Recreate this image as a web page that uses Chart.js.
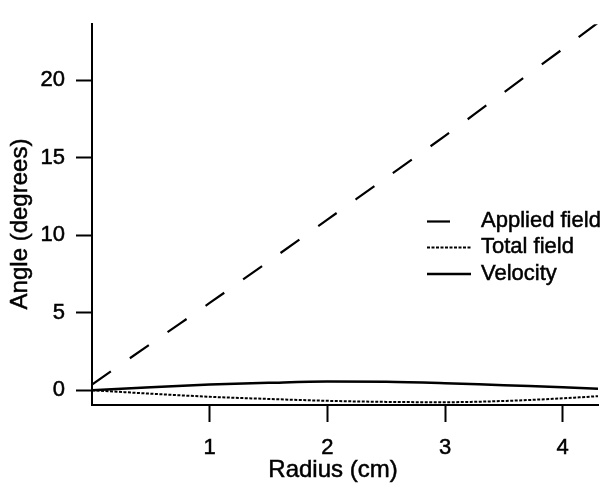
<!DOCTYPE html>
<html>
<head>
<meta charset="utf-8">
<script src="https://cdn.jsdelivr.net/npm/chart.js@4/dist/chart.umd.min.js"></script>
<style>
  html, body { margin: 0; padding: 0; background: #fff; }
  #wrap { width: 608px; height: 483px; }
</style>
</head>
<body>
<div id="wrap"><canvas id="angleChart" width="608" height="483"></canvas></div>
<script>
// radius (cm) sample points and the three angle curves (degrees)
const radius = [0, 0.5, 1, 1.5, 2, 2.5, 3, 3.5, 4, 4.3];
const appliedField = [0.37, 3.0, 5.63, 8.3, 11.0, 13.7, 16.4, 19.2, 22.0, 23.7];
const totalField = [0, -0.22, -0.42, -0.56, -0.68, -0.75, -0.77, -0.69, -0.52, -0.38];
const velocity = [0, 0.2, 0.37, 0.48, 0.56, 0.55, 0.46, 0.32, 0.2, 0.1];

const seriesLabels = ['Applied field', 'Total field', 'Velocity'];
const xTicks = [1, 2, 3, 4];
const yTicks = [0, 5, 10, 15, 20];
const xTitle = 'Radius (cm)';
const yTitle = 'Angle (degrees)';

const FONT = '"Liberation Sans", Arial, Helvetica, sans-serif';

function toPoints(values) {
    return values.map((v, i) => ({ x: radius[i], y: v }));
}

// heavier text, like the original's rasterised Helvetica
function heavyText(ctx, text, x, y) {
    ctx.fillText(text, x, y);
    ctx.strokeText(text, x, y);
}

// legend + axis titles drawn by hand so they sit where the original has them
const annotations = {
    id: 'annotations',
    afterDraw(chart) {
        const ctx = chart.ctx;
        ctx.save();
        ctx.fillStyle = '#000';

        // legend
        ctx.font = '22px ' + FONT;
        ctx.textBaseline = 'alphabetic';
        ctx.textAlign = 'left';
        const rows = [221.5, 247.5, 274];
        chart.data.datasets.forEach((ds, i) => {
            const y = rows[i];
            ctx.beginPath();
            ctx.setLineDash(ds.borderDash || []);
            ctx.lineWidth = ds.borderWidth;
            ctx.strokeStyle = ds.borderColor;
            ctx.moveTo(427, y);
            ctx.lineTo(471, y);
            ctx.stroke();
            ctx.setLineDash([]);
            ctx.lineWidth = 0.5;
            heavyText(ctx, ds.label, 481, y + 5.5);
        });

        // axis titles
        ctx.font = '24px ' + FONT;
        ctx.textAlign = 'center';
        ctx.lineWidth = 0.5;
        heavyText(ctx, xTitle, 333, 477);

        ctx.translate(27, 224);
        ctx.rotate(-Math.PI / 2);
        heavyText(ctx, yTitle, 0, 0);
        ctx.restore();
    }
};

const tickFont = { family: FONT, size: 22 };

const ctx = document.getElementById('angleChart').getContext('2d');
new Chart(ctx, {
    type: 'line',
    data: {
        datasets: [
            {
                label: seriesLabels[0],
                data: toPoints(appliedField),
                borderColor: '#000',
                borderWidth: 2.2,
                borderDash: [23, 23],
                pointRadius: 0,
                tension: 0.3
            },
            {
                label: seriesLabels[1],
                data: toPoints(totalField),
                borderColor: '#000',
                borderWidth: 2,
                borderDash: [3, 1.5],
                pointRadius: 0,
                cubicInterpolationMode: 'monotone'
            },
            {
                label: seriesLabels[2],
                data: toPoints(velocity),
                borderColor: '#000',
                borderWidth: 2.5,
                pointRadius: 0,
                cubicInterpolationMode: 'monotone'
            }
        ]
    },
    options: {
        responsive: false,
        animation: false,
        layout: { padding: { top: 12, right: 10, left: 0, bottom: 0 } },
        plugins: {
            legend: { display: false },
            tooltip: { enabled: false }
        },
        scales: {
            x: {
                type: 'linear',
                min: 0,
                max: 4.3,
                afterBuildTicks: scale => { scale.ticks = xTicks.map(v => ({ value: v })); },
                afterFit: scale => { scale.height = 78; },
                grid: {
                    drawOnChartArea: false,
                    drawTicks: true,
                    tickLength: 17,
                    tickWidth: 2,
                    tickColor: '#000'
                },
                border: { display: true, color: '#000', width: 2 },
                ticks: {
                    color: '#000',
                    padding: 13,
                    maxRotation: 0,
                    textStrokeColor: '#000',
                    textStrokeWidth: 0.5,
                    font: tickFont
                },
                title: { display: false }
            },
            y: {
                min: -0.95,
                max: 23.6,
                afterBuildTicks: scale => { scale.ticks = yTicks.map(v => ({ value: v })); },
                afterFit: scale => { scale.width = 92; },
                grid: {
                    drawOnChartArea: false,
                    drawTicks: true,
                    tickLength: 16,
                    tickWidth: 2,
                    tickColor: '#000'
                },
                border: { display: true, color: '#000', width: 2 },
                ticks: {
                    color: '#000',
                    padding: 11,
                    textStrokeColor: '#000',
                    textStrokeWidth: 0.5,
                    font: tickFont
                },
                title: { display: false }
            }
        }
    },
    plugins: [annotations]
});
</script>
</body>
</html>
